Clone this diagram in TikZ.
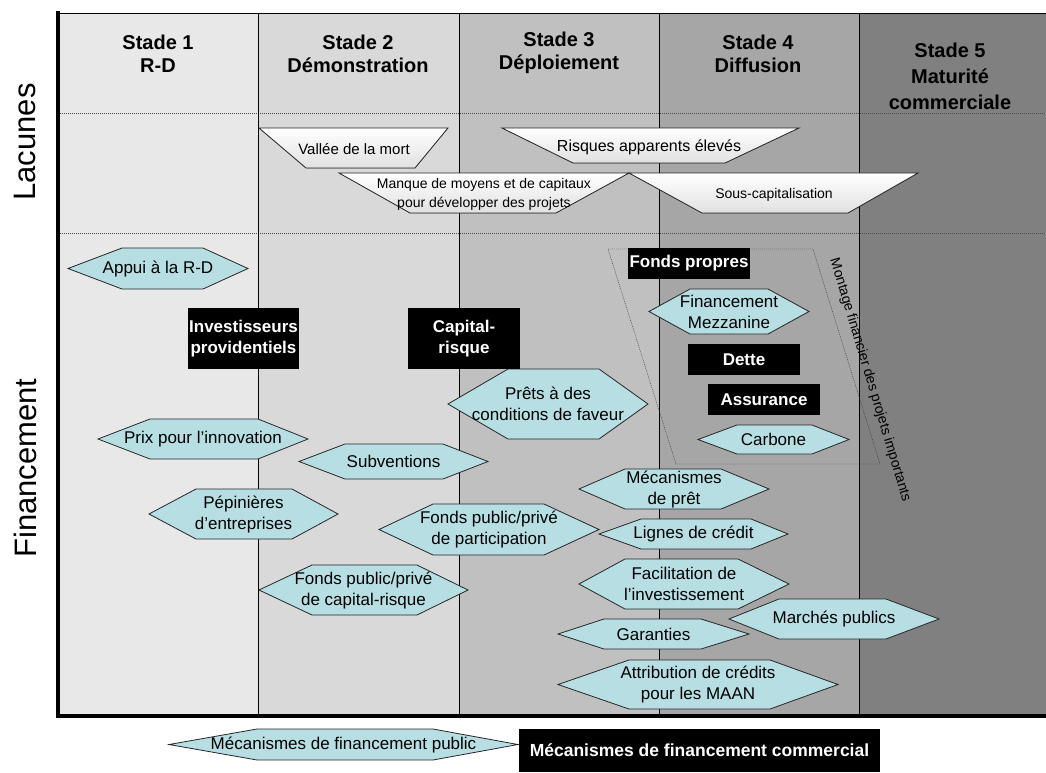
\documentclass[tikz,border=0pt]{standalone}
\usepackage{fontspec}
\setmainfont{Liberation Sans}

\definecolor{stadeA}{RGB}{232,232,232}
\definecolor{stadeB}{RGB}{217,217,217}
\definecolor{stadeC}{RGB}{192,192,192}
\definecolor{stadeD}{RGB}{166,166,166}
\definecolor{stadeE}{RGB}{128,128,128}
\definecolor{hexcyan}{RGB}{183,223,227}

\tikzset{
  hexa/.style={draw=black!85, fill=hexcyan, line width=0.8pt},
  hexlabel/.style={align=center, inner sep=0pt, font=\fontsize{17}{21}\selectfont},
  darkbox/.style={fill=black, text=white, align=center, inner sep=0pt, font=\bfseries\fontsize{17}{21}\selectfont},
  gapshape/.style={draw=black!85, top color=white, bottom color=black!12, line width=0.8pt},
  gaplabel/.style={align=center, inner sep=0pt},
  stadelabel/.style={align=center, font=\bfseries\fontsize{20}{23}\selectfont},
  sidelabel/.style={rotate=90, font=\fontsize{31}{31}\selectfont}
}

% hexagon: name, left tip, flat left, flat right, right tip, top, bottom, text
\newcommand{\hexnode}[8]{%
  \filldraw[hexa] (#2,{(#6+#7)/2}) -- (#3,#6) -- (#4,#6) -- (#5,{(#6+#7)/2}) -- (#4,#7) -- (#3,#7) -- cycle;
  \node[hexlabel] (#1) at ({(#2+#5)/2},{(#6+#7)/2}) {#8};}

\begin{document}
\begin{tikzpicture}[x=1pt,y=-1pt]
  \useasboundingbox (0,0) rectangle (1046,772);

  % Stage columns
  \foreach \xa/\xb/\c in {58/258/stadeA, 258/459/stadeB, 459/659/stadeC, 659/859/stadeD, 859/1046/stadeE}
    \fill[\c] (\xa,13) rectangle (\xb,716);

  % Band separators
  \draw[black!70, dash pattern=on 1pt off 1pt] (58,113) -- (1046,113);
  \draw[black!70, dash pattern=on 1pt off 1pt] (58,233) -- (1046,233);

  % Column borders
  \foreach \x in {258,459,659,859}
    \draw[line width=1pt] (\x,13) -- (\x,716);
  \draw[line width=1pt] (58,13) -- (1046,13);
  \draw[line width=4pt] (58,11) -- (58,716);
  \draw[line width=4pt] (56,716) -- (1046,716);

  % Side labels
  \node[sidelabel] (lacunes) at (25,142) {Lacunes};
  \node[sidelabel] (financement) at (25,468) {Financement};

  % Stage headings
  \node[stadelabel] (stade1) at (158,54) {Stade 1\\R-D};
  \node[stadelabel] (stade2) at (358,54) {Stade 2\\Démonstration};
  \node[stadelabel] (stade3) at (559,53) {Stade 3\\Déploiement};
  \node[stadelabel] (stade4) at (758,54) {Stade 4\\Diffusion};
  \node[stadelabel, font=\bfseries\fontsize{20}{26}\selectfont] (stade5) at (950,76) {Stade 5\\Maturité\\commerciale};

  % Gaps
  \filldraw[gapshape] (259,128) -- (448,128) -- (415,168) -- (306,168) -- cycle;
  \node[gaplabel, font=\fontsize{15}{19}\selectfont] (vallee) at (354,149) {Vallée de la mort};
  \filldraw[gapshape] (502,128) -- (799,128) -- (725,163) -- (573,163) -- cycle;
  \node[gaplabel, font=\fontsize{16}{19}\selectfont] (risques) at (649,147) {Risques apparents élevés};
  \filldraw[gapshape] (339,173) -- (629,173) -- (556,213) -- (410,213) -- cycle;
  \node[gaplabel, font=\fontsize{14}{19}\selectfont] (manque) at (484,194) {Manque de moyens et de capitaux\\pour développer des projets};
  \filldraw[gapshape] (629,173) -- (918,173) -- (848,213) -- (702,213) -- cycle;
  \node[gaplabel, font=\fontsize{14}{19}\selectfont] (souscap) at (774,195) {Sous-capitalisation};

  % Large project financing
  \draw[black!80, dash pattern=on 1pt off 1pt] (608,249) -- (813,249) -- (880,464) -- (676,464) -- cycle;
  \node[rotate=-73.3, inner sep=0pt, font=\fontsize{14}{14}\selectfont] (montage) at (870,380) {Montage financier des projets importants};

  % Financing mechanisms
  \hexnode{appui}{68}{122}{203}{248}{248}{289}{Appui à la R-D}
  \hexnode{prix}{98}{150}{258}{308}{419}{459}{Prix pour l’innovation}
  \hexnode{subv}{299}{345}{443}{488}{444}{479}{Subventions}
  \hexnode{pepin}{149}{196}{292}{338}{489}{539}{Pépinières\\d’entreprises}
  \hexnode{fpcr}{259}{312}{417}{468}{565}{615}{Fonds public/privé\\de capital-risque}
  \hexnode{fppart}{379}{433}{544}{599}{504}{555}{Fonds public/privé\\de participation}
  \hexnode{prets}{448}{508}{599}{648}{369}{439}{Prêts à des\\conditions de faveur}
  \hexnode{mezz}{649}{690}{768}{809}{289}{334}{Financement\\Mezzanine}
  \hexnode{carbone}{698}{737}{812}{849}{425}{454}{Carbone}
  \hexnode{mecapret}{579}{625}{721}{769}{469}{509}{Mécanismes\\de prêt}
  \hexnode{lignes}{599}{641}{751}{788}{519}{549}{Lignes de crédit}
  \hexnode{facil}{579}{625}{738}{789}{559}{609}{Facilitation de\\l’investissement}
  \hexnode{garanties}{558}{604}{701}{749}{619}{649}{Garanties}
  \hexnode{marches}{729}{779}{886}{939}{599}{639}{Marchés publics}
  \hexnode{attrib}{558}{629}{770}{838}{660}{709}{Attribution de crédits\\pour les MAAN}
  \hexnode{mecapub}{169}{257}{433}{518}{729}{760}{Mécanismes de financement public}

  % Investors
  \node[darkbox, minimum width=111, minimum height=61] (angels) at (243.5,338.5) {Investisseurs\\providentiels};
  \node[darkbox, minimum width=112, minimum height=61] (capital) at (464,338.5) {Capital-\\risque};
  \node[darkbox, minimum width=122, minimum height=31] (fonds) at (689,263.5) {Fonds propres};
  \node[darkbox, minimum width=112, minimum height=31] (dette) at (744,359.5) {Dette};
  \node[darkbox, minimum width=112, minimum height=31] (assurance) at (764,399.5) {Assurance};
  \node[darkbox, minimum width=361, minimum height=43, font=\bfseries\fontsize{17.5}{21}\selectfont] (commercial) at (699.5,750.5) {Mécanismes de financement commercial};
\end{tikzpicture}
\end{document}
